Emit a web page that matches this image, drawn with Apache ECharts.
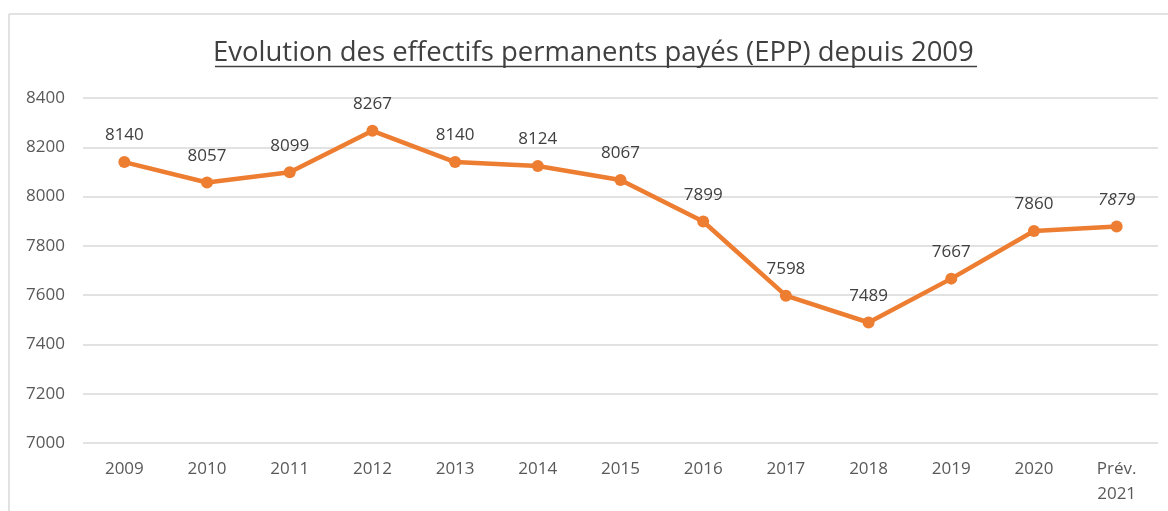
<!DOCTYPE html>
<html>
<head>
<meta charset="utf-8">
<script src="https://cdn.jsdelivr.net/npm/echarts@6/dist/echarts.min.js"></script>
<style>
  html, body { margin: 0; padding: 0; background: #fff; }
  #main { width: 1168px; height: 511px; }
</style>
</head>
<body>
<div id="main"></div>
<script>
const categories = ["2009", "2010", "2011", "2012", "2013", "2014", "2015", "2016", "2017", "2018", "2019", "2020", "Prév.\n2021"];
const effectifs = [8140, 8057, 8099, 8267, 8140, 8124, 8067, 7899, 7598, 7489, 7667, 7860, 7879];
const yTicks = [7000, 7200, 7400, 7600, 7800, 8000, 8200, 8400];

const FONT = "'Open Sans', 'Noto Sans', sans-serif";
const chart = echarts.init(document.getElementById("main"));

// last point is a forecast: its label is in italics
const seriesData = effectifs.map((v, i) => {
  if (i === effectifs.length - 1) {
    return { value: v, label: { fontStyle: "italic" } };
  }
  return v;
});

const option = {
  animation: false,
  textStyle: { fontFamily: FONT },
  title: {
    text: "Evolution des effectifs permanents payés (EPP) depuis 2009",
    left: 213,
    top: 39,
    padding: 0,
    textStyle: { fontFamily: FONT, fontSize: 27.5, fontWeight: "normal", color: "#404040" }
  },
  graphic: [
    { type: "line", shape: { x1: 9, y1: 14, x2: 1168, y2: 14 }, style: { stroke: "#d9d9d9", lineWidth: 1.5 } },
    { type: "line", shape: { x1: 9, y1: 14, x2: 9, y2: 511 }, style: { stroke: "#d9d9d9", lineWidth: 1.5 } },
    { type: "line", shape: { x1: 215, y1: 66.5, x2: 977, y2: 66.5 }, style: { stroke: "#404040", lineWidth: 1.3 } }
  ],
  grid: { left: 83, right: 10, top: 98, bottom: 68, containLabel: false },
  xAxis: {
    type: "category",
    data: categories,
    boundaryGap: true,
    axisLine: { show: false },
    axisTick: { show: false },
    axisLabel: { color: "#595959", fontSize: 17, margin: 14, lineHeight: 25, interval: 0 }
  },
  yAxis: {
    type: "value",
    min: 7000,
    max: 8400,
    interval: 200,
    axisLine: { show: false },
    axisTick: { show: false },
    axisLabel: {
      color: "#595959",
      fontSize: 17,
      margin: 18,
      customValues: yTicks,
      formatter: (v) => String(v)
    },
    splitLine: { lineStyle: { color: "#d9d9d9", width: 1.5 } }
  },
  series: [{
    type: "line",
    data: seriesData,
    symbol: "circle",
    symbolSize: 12,
    itemStyle: { color: "#ED7D31" },
    lineStyle: { color: "#ED7D31", width: 4.5 },
    label: {
      show: true,
      position: "top",
      distance: 12,
      color: "#404040",
      fontSize: 17,
      fontFamily: FONT
    }
  }]
};

chart.setOption(option);
</script>
</body>
</html>
